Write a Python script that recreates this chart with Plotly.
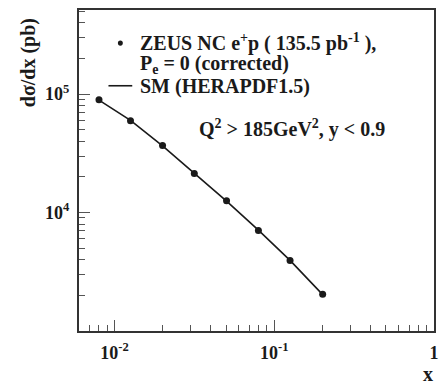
import plotly.graph_objects as go

# ZEUS NC e+p single-differential cross section dsigma/dx
x_vals = [0.008, 0.0126, 0.02, 0.0316, 0.0503, 0.0796, 0.1256, 0.201]
zeus_xsec = [89500, 59500, 36800, 21400, 12600, 7050, 3930, 2040]
# Standard Model prediction (HERAPDF1.5)
sm_xsec = [89000, 60000, 36500, 21500, 12500, 7100, 3950, 2030]

x_major = [0.01, 0.1, 1]
x_major_text = ["10<sup>-2</sup>", "10<sup>-1</sup>", "1"]
y_major = [1e4, 1e5]
y_major_text = ["10<sup>4</sup>", "10<sup>5</sup>"]

x_minor = [m * 10.0 ** e for e in (-3, -2, -1) for m in range(2, 10)]
x_minor = [v for v in x_minor if 0.006 <= v < 1]
y_minor = [m * 10.0 ** e for e in (3, 4, 5) for m in range(2, 10)]
y_minor = [v for v in y_minor if v <= 5e5]

FONT = "Liberation Serif"
INK = "#1a1a1a"

fig = go.Figure()
fig.add_trace(go.Scatter(
    x=x_vals, y=sm_xsec, mode="lines",
    line=dict(color=INK, width=1.6), showlegend=False, hoverinfo="skip"))
fig.add_trace(go.Scatter(
    x=x_vals, y=zeus_xsec, mode="markers",
    marker=dict(color=INK, size=7, symbol="circle"), showlegend=False))

axis_common = dict(
    type="log",
    ticks="inside", ticklen=11, tickwidth=1, tickcolor="#555",
    showline=True, linewidth=2, linecolor="#333", mirror=True,
    showgrid=False, zeroline=False,
    tickfont=dict(family=FONT, size=18, color=INK, weight="bold"),
    ticklabelstandoff=4,
)
fig.update_xaxes(
    range=[-2.222, 0.0],
    tickvals=x_major, ticktext=x_major_text,
    minor=dict(tickvals=x_minor, ticks="inside", ticklen=6, tickwidth=1, tickcolor="#555"),
    **axis_common,
)
fig.update_yaxes(
    range=[3.0, 5.71],
    tickvals=y_major, ticktext=y_major_text,
    minor=dict(tickvals=y_minor, ticks="inside", ticklen=6, tickwidth=1, tickcolor="#555"),
    **axis_common,
)

txt = dict(family=FONT, size=20, color=INK, weight="bold")

# legend text
fig.add_annotation(xref="paper", yref="paper", x=0.1675, y=0.898, xanchor="left", yanchor="middle",
                   text="ZEUS NC e<sup>+</sup>p ( 135.5 pb<sup>-1</sup> ),", showarrow=False, font=txt)
fig.add_annotation(xref="paper", yref="paper", x=0.1675, y=0.829, xanchor="left", yanchor="middle",
                   text="P<sub>e</sub> = 0 (corrected)", showarrow=False, font=txt)
fig.add_annotation(xref="paper", yref="paper", x=0.1675, y=0.762, xanchor="left", yanchor="middle",
                   text="SM (HERAPDF1.5)", showarrow=False, font=txt)
# legend glyphs
fig.add_shape(type="circle", xref="paper", yref="paper",
              x0=0.1095, x1=0.1235, y0=0.889, y1=0.905,
              fillcolor=INK, line=dict(width=0))
fig.add_shape(type="line", xref="paper", yref="paper",
              x0=0.083, x1=0.15, y0=0.764, y1=0.764, line=dict(color=INK, width=1.6))

fig.add_annotation(xref="paper", yref="paper", x=0.333, y=0.632, xanchor="left", yanchor="middle",
                   text="Q<sup>2</sup> &gt; 185GeV<sup>2</sup>, y &lt; 0.9", showarrow=False, font=txt)

# axis titles
fig.add_annotation(xref="paper", yref="paper", x=-0.142, y=0.836, xanchor="center", yanchor="middle",
                   text="d\u03c3/dx (pb)", textangle=-90, showarrow=False,
                   font=dict(family=FONT, size=20, color=INK, weight="bold"))
fig.add_annotation(xref="paper", yref="paper", x=0.983, y=-0.134, xanchor="center", yanchor="middle",
                   text="x", showarrow=False,
                   font=dict(family=FONT, size=20, color=INK, weight="bold"))

fig.update_layout(
    width=446, height=389,
    margin=dict(l=79, r=7, t=10, b=58),
    paper_bgcolor="white", plot_bgcolor="white",
    showlegend=False,
)

fig.write_html("out.html")
